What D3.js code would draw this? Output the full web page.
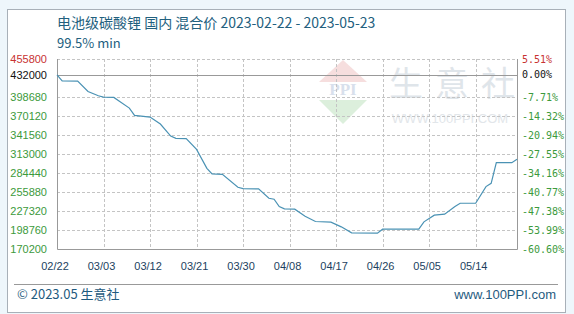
<!DOCTYPE html>
<html>
<head>
<meta charset="utf-8">
<script src="https://cdn.jsdelivr.net/npm/d3@7"></script>
<style>
  html, body { margin: 0; padding: 0; background: #eef6fb; }
  svg { display: block; }
</style>
</head>
<body>
<svg id="chart" width="574" height="314"></svg>
<script>
// Price data (yuan/ton)
const dates = ["2023-02-22","2023-02-23","2023-02-26","2023-02-28","2023-03-02","2023-03-03","2023-03-05",
  "2023-03-06","2023-03-08","2023-03-09","2023-03-12","2023-03-14","2023-03-16","2023-03-17","2023-03-19",
  "2023-03-21","2023-03-23","2023-03-24","2023-03-26","2023-03-29","2023-03-30","2023-04-02","2023-04-04",
  "2023-04-05","2023-04-06","2023-04-07","2023-04-09","2023-04-11","2023-04-13","2023-04-16","2023-04-18",
  "2023-04-20","2023-04-25","2023-04-26","2023-05-03","2023-05-04","2023-05-06","2023-05-08","2023-05-10",
  "2023-05-11","2023-05-14","2023-05-16","2023-05-17","2023-05-18","2023-05-21","2023-05-22"];
const prices = [432000,423000,422500,407000,400500,398500,398000,
  392500,382000,371000,368500,358000,340000,336500,336000,
  320000,291500,283000,282500,263000,261000,260500,246500,
  245000,234000,230500,230000,219500,211500,210500,203500,
  194500,194000,200000,200000,211000,221000,222500,234000,
  239000,239000,264000,269000,300000,300000,305000];

const yTicks = [455800,432000,398680,370120,341560,313000,284440,255880,227320,198760,170200];
const xTickLabels = ["02/22","03/03","03/12","03/21","03/30","04/08","04/17","04/26","05/05","05/14"];
const basePrice = 432000;
const title = "电池级碳酸锂 国内 混合价 2023-02-22 - 2023-05-23";
const subtitle = "99.5% min";

const parse = d3.timeParse("%Y-%m-%d");
const data = dates.map((d, i) => ({ date: parse(d), value: prices[i] }));

const svg = d3.select("#chart");
const plot = { left: 57, right: 517, top: 59, bottom: 249 };

// outer white panel
svg.append("rect")
  .attr("x", 7.5).attr("y", 9.5).attr("width", 558).attr("height", 303)
  .attr("fill", "#fff").attr("stroke", "#a8b0b8");

const x = d3.scaleTime()
  .domain([parse("2023-02-22"), parse("2023-05-22")])
  .range([plot.left, plot.right]);
const y = d3.scaleLinear()
  .domain([170200, 455800])
  .range([plot.bottom, plot.top]);

// watermark
const wm = svg.append("g");
wm.append("path").attr("d", "M343,60 L367,82 L319,82 Z").attr("fill", "#f6dede");
wm.append("text").attr("x", 343).attr("y", 95).attr("text-anchor", "middle")
  .style("font", "bold 17px 'Liberation Serif'").style("fill", "#d8e0ec").text("PPI");
wm.append("path").attr("d", "M319,100 L367,100 L343,124 Z").attr("fill", "#dcefdc");
wm.append("text").attr("x", 452).attr("y", 96).attr("text-anchor", "middle")
  .attr("textLength", 126)
  .style("font", "34px 'Noto Sans CJK SC'").style("fill", "#dfe5ea").text("生 意 社");
wm.append("text").attr("x", 450).attr("y", 123).attr("text-anchor", "middle")
  .style("font", "13px 'Liberation Sans'").style("fill", "#e2e6ea").text("WWW.100PPI.COM");

// grid
const g = svg.append("g");
g.selectAll("line.hgrid")
  .data(yTicks.filter(v => v !== basePrice && v !== 170200))
  .join("line")
  .attr("x1", plot.left).attr("x2", plot.right)
  .attr("y1", d => Math.round(y(d)) + 0.5).attr("y2", d => Math.round(y(d)) + 0.5)
  .attr("stroke", "#c4c4c4").attr("stroke-dasharray", "3,2");

const xTickDates = xTickLabels.map(s => parse("2023-" + s.replace("/", "-")));
g.selectAll("line.vgrid")
  .data(xTickDates.slice(1))
  .join("line")
  .attr("x1", d => Math.round(x(d)) + 0.5).attr("x2", d => Math.round(x(d)) + 0.5)
  .attr("y1", plot.top).attr("y2", plot.bottom)
  .attr("stroke", "#c4c4c4").attr("stroke-dasharray", "3,2");

// base line (0.00%)
g.append("line")
  .attr("x1", plot.left).attr("x2", plot.right)
  .attr("y1", Math.round(y(basePrice)) + 0.5).attr("y2", Math.round(y(basePrice)) + 0.5)
  .attr("stroke", "#999");

// plot frame: left, bottom, right solid
g.append("path")
  .attr("d", `M${plot.left + 0.5},${plot.top} V${plot.bottom + 0.5} H${plot.right + 0.5} V${plot.top}`)
  .attr("fill", "none").attr("stroke", "#999");

// price line
svg.append("path")
  .datum(data)
  .attr("fill", "none")
  .attr("stroke", "#4a92b4")
  .attr("stroke-width", 1.2)
  .attr("d", d3.line().x(d => x(d.date)).y(d => y(d.value)));

// left axis labels
svg.selectAll("text.yl")
  .data(yTicks)
  .join("text")
  .attr("x", 47).attr("y", d => y(d)).attr("dy", "0.35em")
  .attr("text-anchor", "end")
  .style("font", "11px 'Liberation Sans'")
  .style("fill", (d, i) => i === 0 ? "#c83232" : (d === basePrice ? "#111" : "#3c9a3c"))
  .text(d => d);

// right axis labels (change vs base)
svg.selectAll("text.yr")
  .data(yTicks)
  .join("text")
  .attr("x", 522).attr("y", d => y(d)).attr("dy", "0.35em")
  .style("font", "10px 'DejaVu Sans Mono'")
  .style("fill", (d, i) => i === 0 ? "#c83232" : (d === basePrice ? "#111" : "#3c9a3c"))
  .text(d => ((d / basePrice - 1) * 100).toFixed(2) + "%");

// x axis labels
svg.selectAll("text.xl")
  .data(xTickDates)
  .join("text")
  .attr("x", d => x(d) - 2).attr("y", 270)
  .attr("text-anchor", "middle")
  .style("font", "11px 'Liberation Sans'").style("fill", "#1c3f60")
  .text((d, i) => xTickLabels[i]);

// titles
svg.append("text").attr("x", 57).attr("y", 28)
  .style("font", "14px 'Noto Sans CJK SC'").style("fill", "#22607e").text(title);
svg.append("text").attr("x", 57).attr("y", 48)
  .style("font", "13px 'Noto Sans CJK SC'").style("fill", "#22607e").text(subtitle);

// footer
svg.append("line").attr("x1", 14).attr("x2", 558).attr("y1", 284.5).attr("y2", 284.5)
  .attr("stroke", "#999");
svg.append("text").attr("x", 17).attr("y", 299)
  .style("font", "13px 'Noto Sans CJK SC'").style("fill", "#1f5b80").text("© 2023.05 生意社");
svg.append("text").attr("x", 556).attr("y", 299).attr("text-anchor", "end")
  .style("font", "13px 'Liberation Sans'").style("fill", "#1f5b80").text("www.100PPI.com");
</script>
</body>
</html>
